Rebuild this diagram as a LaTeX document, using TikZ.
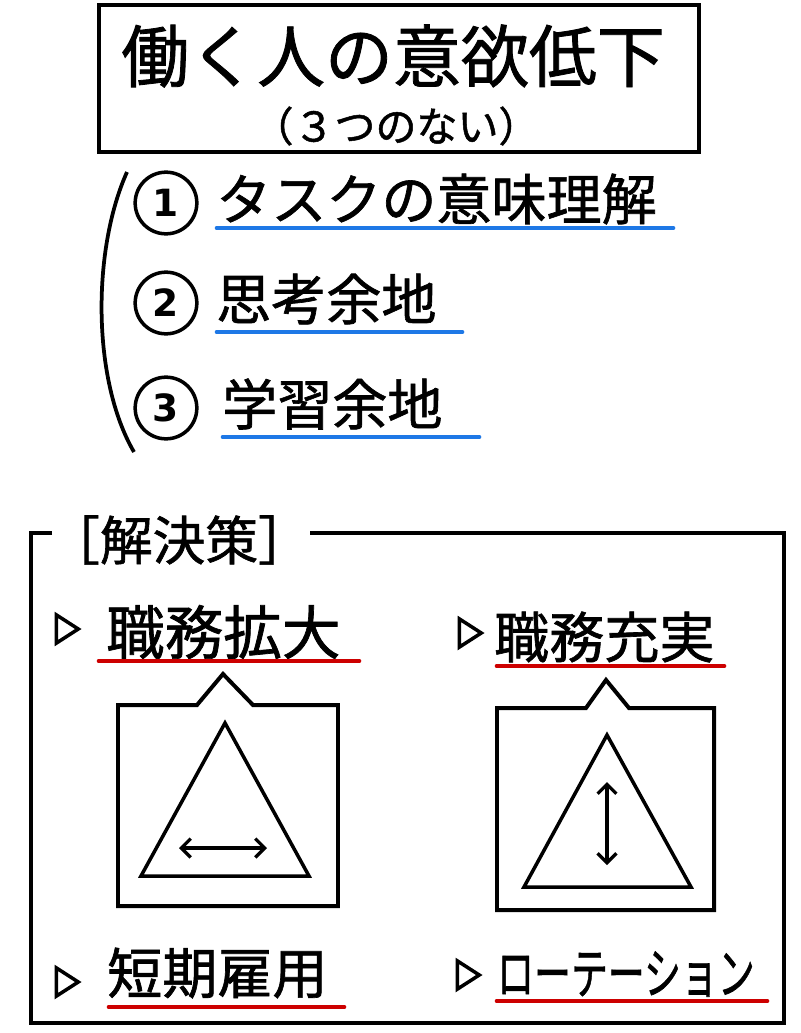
\documentclass[tikz,border=0pt]{standalone}
\usepackage{fontspec}
\usepackage{graphicx}
\setmainfont{Noto Sans CJK JP}[FakeBold=1.2]
\newfontfamily\numfont{DejaVu Sans}
\usetikzlibrary{arrows.meta,shapes.geometric}
\definecolor{lineblue}{RGB}{30,120,230}
\definecolor{linered}{RGB}{205,0,0}

\begin{document}
\begin{tikzpicture}[x=0.03cm,y=-0.03cm,
    nodes = {inner sep=0pt},
    frame/.style = {line width=3.4pt,line join=miter},
    tri/.style = {line width=3pt,line join=miter},
    underline/.style = {line width=4pt,line cap=round},
    twohead/.style = {line width=2.8pt,
      {Straight Barb[length=8pt,width=16pt]}-{Straight Barb[length=8pt,width=16pt]}},
    num/.style = {draw,circle,line width=3pt,minimum size=1.85cm,
      font=\numfont\bfseries\fontsize{32}{34}\selectfont},
    bullet/.style = {draw,isosceles triangle,isosceles triangle stretches,
      line width=3pt,minimum width=0.85cm,minimum height=0.66cm},
    bigtext/.style = {anchor=west,font=\fontsize{#1}{#1}\selectfont}]
    \useasboundingbox (0,0) rectangle (800,1033);

    % Title box
    \node[draw,line width=4pt,minimum width=18cm,minimum height=4.41cm]
      (titlebox) at (399,78.5) {};
    \node[font=\fontsize{58}{60}\selectfont] (title) at (393,56) {働く人の意欲低下};
    \node[font=\fontsize{35}{37}\selectfont] (subtitle) at (396,126) {（３つのない）};

    % Bracket and the three items
    \draw[line width=3.2pt] (127,172) .. controls (92,250) and (92,380) .. (134,452);
    \foreach \n/\y/\txt/\ux/\uy/\ue in {
          1/203/タスクの意味理解/217/228/673,
          2/303/思考余地/217/332/462,
          3/408/学習余地/223/437/479
        } {
          \node[num] (num\n) at (166,\y) {\n};
          \node[bigtext=47] (item\n) at (\ux-1,\y-4) {\txt};
          \draw[underline,lineblue] (\ux,\uy) -- (\ue,\uy);  % blue line under item
        };

    % Frame of the solutions
    \draw[frame] (52,533) -- (31,533) -- (31,1023) -- (784,1023)
      -- (784,533) -- (310,533);
    \node[bigtext=45] (head) at (47,540) {［解決策］};

    % Solutions
    \node[bullet] (mark1) at (64,629) {};
    \node[bigtext=50] (sol1) at (106,632) {職務拡大};
    \draw[underline,linered] (99,661) -- (359,661);
    \node[bullet] (mark2) at (467,633) {};
    \node[bigtext=47] (sol2) at (494,637) {職務充実};
    \draw[underline,linered] (497,666) -- (724,666);
    \node[bullet] (mark3) at (64,982) {};
    \node[bigtext=47] (sol3) at (107,973) {短期雇用};
    \draw[underline,linered] (109,1007) -- (344,1007);
    \node[bullet] (mark4) at (465,975) {};
    \node[bigtext=47] (sol4) at (497,974) {\scalebox{0.67}[1]{ローテーション}};
    \draw[underline,linered] (497,1001) -- (767,1001);

    % Callout boxes with a triangle in each
    \draw[frame] (197,705) -- (223,674) -- (253,705) -- (338,705)
      -- (338,906) -- (118,906) -- (118,705) -- cycle;
    \draw[tri] (225,723) -- (309,876) -- (141,876) -- cycle;
    \coordinate (wide1) at (179,848);
    \coordinate (wide2) at (267,848);
    \draw[twohead] (wide1) -- (wide2);
    \draw[frame] (586,708) -- (606,680) -- (629,708) -- (714,708)
      -- (714,910) -- (497,910) -- (497,708) -- cycle;
    \draw[tri] (607,735) -- (691,887) -- (524,887) -- cycle;
    \coordinate (deep1) at (607,782);
    \coordinate (deep2) at (607,865);
    \draw[twohead] (deep1) -- (deep2);
\end{tikzpicture}
\end{document}
